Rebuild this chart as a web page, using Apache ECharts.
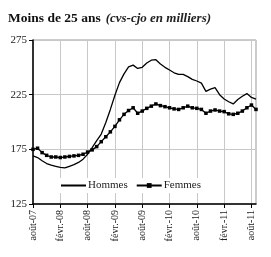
<!DOCTYPE html>
<html>
<head>
<meta charset="utf-8">
<script src="https://cdn.jsdelivr.net/npm/echarts@6/dist/echarts.min.js"></script>
<style>
  html, body { margin: 0; padding: 0; background: #fff; }
  #main { width: 271px; height: 257px; }
</style>
</head>
<body>
<div id="main"></div>
<script>
// mois, août-07 -> sept.-11
var mois = [
  "août-07", "sept.-07", "oct.-07", "nov.-07", "déc.-07",
  "janv.-08", "févr.-08", "mars-08", "avr.-08", "mai-08", "juin-08", "juil.-08",
  "août-08", "sept.-08", "oct.-08", "nov.-08", "déc.-08",
  "janv.-09", "févr.-09", "mars-09", "avr.-09", "mai-09", "juin-09", "juil.-09",
  "août-09", "sept.-09", "oct.-09", "nov.-09", "déc.-09",
  "janv.-10", "févr.-10", "mars-10", "avr.-10", "mai-10", "juin-10", "juil.-10",
  "août-10", "sept.-10", "oct.-10", "nov.-10", "déc.-10",
  "janv.-11", "févr.-11", "mars-11", "avr.-11", "mai-11", "juin-11", "juil.-11",
  "août-11", "sept.-11"
];

var hommes = [
  169, 167.5, 164.5, 162, 160.5, 159.5, 158.5, 158, 159.5, 161,
  163, 166, 170.5, 176.5, 183, 189, 199.5, 211.5, 224.5, 236,
  244, 250.5, 252, 249, 250, 254, 256.5, 257, 253, 250,
  247.5, 245, 243.5, 243.5, 241.5, 239, 237.5, 235.5, 228, 230,
  231.5, 225, 221, 218.5, 216.5, 220.5, 223.5, 226, 222.5, 221
];

var femmes = [
  175, 176, 172, 169.5, 168, 168, 167.5, 168, 168.5, 169,
  169.5, 170.5, 172.5, 174.5, 177.5, 182, 186.5, 191, 196, 202,
  207, 210.5, 213, 208, 210, 212.5, 214.5, 216.5, 215, 214,
  213, 212, 211.5, 213, 214.5, 213, 212.5, 211.5, 208, 210,
  211, 210, 209.5, 207.5, 207, 208, 210, 213, 215.5, 211.5
];

var yTicks = [125, 175, 225, 275];

var serif = "'Liberation Serif', 'DejaVu Serif', serif";

var myChart = echarts.init(document.getElementById("main"));

var option = {
  animation: false,
  backgroundColor: "#fff",
  title: {
    left: 3,
    top: 5,
    text: "{b|Moins de 25 ans} {i|(cvs-cjo en milliers)}",
    textStyle: {
      rich: {
        b: { fontFamily: serif, fontSize: 13.5, fontWeight: "bold", color: "#111" },
        i: { fontFamily: serif, fontSize: 13, fontStyle: "italic", color: "#222" }
      }
    }
  },
  legend: {
    left: 58,
    top: 178,
    itemWidth: 25,
    itemHeight: 6,
    itemGap: 8,
    padding: [2, 2],
    backgroundColor: "#fff",
    textStyle: { fontFamily: serif, fontSize: 11, color: "#222", padding: [0, 0, 0, -3] },
    // pas de marqueur pour Hommes
    data: [{ name: "Hommes", itemStyle: { opacity: 0 } }, "Femmes"]
  },
  grid: {
    left: 33,
    right: 15,
    top: 40,
    bottom: 53,
    show: true,
    borderColor: "#999",
    borderWidth: 1
  },
  xAxis: {
    type: "category",
    data: mois,
    boundaryGap: false,
    axisLine: { lineStyle: { color: "#000", width: 1.5 } },
    axisTick: { interval: 5, length: 4, lineStyle: { color: "#000" } },
    axisLabel: {
      interval: 5,
      rotate: 90,
      margin: 6,
      fontFamily: serif,
      fontSize: 10,
      color: "#222"
    },
    splitLine: { show: true, interval: 5, lineStyle: { color: "#c8c8c8", width: 1 } }
  },
  yAxis: {
    type: "value",
    min: yTicks[0],
    max: yTicks[yTicks.length - 1],
    interval: 50,
    axisLine: { show: true, lineStyle: { color: "#000", width: 1.5 } },
    axisTick: { show: true, length: 4, lineStyle: { color: "#000" } },
    axisLabel: { margin: 6, fontFamily: serif, fontSize: 11, color: "#222" },
    splitLine: { show: true, lineStyle: { color: "#c8c8c8", width: 1 } }
  },
  series: [
    {
      name: "Hommes",
      type: "line",
      data: hommes,
      symbol: "none",
      lineStyle: { color: "#000", width: 1.3 },
      itemStyle: { color: "#000" }
    },
    {
      name: "Femmes",
      type: "line",
      data: femmes,
      symbol: "rect",
      symbolSize: 3.5,
      showAllSymbol: true,
      lineStyle: { color: "#000", width: 1.3 },
      itemStyle: { color: "#000" }
    }
  ]
};

myChart.setOption(option, true);
</script>
</body>
</html>
